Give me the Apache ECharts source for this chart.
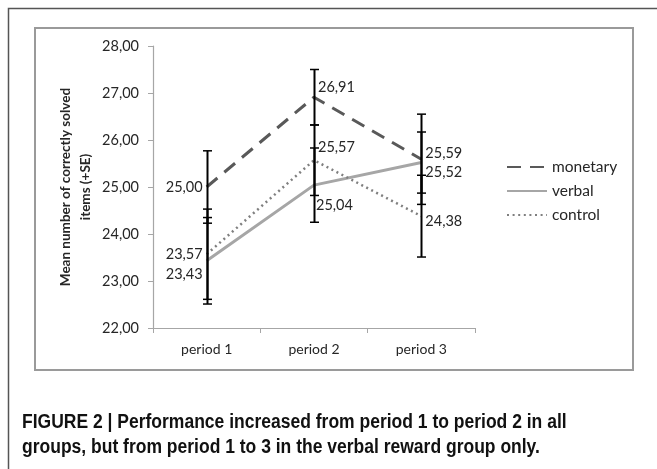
<!DOCTYPE html>
<html>
<head>
<meta charset="utf-8">
<script src="https://cdn.jsdelivr.net/npm/echarts@6/dist/echarts.min.js"></script>
<style>
html,body{margin:0;padding:0;background:#fff;}
#c{width:657px;height:469px;}
</style>
</head>
<body>
<div id="c"></div>
<script>
var categories = ['period 1', 'period 2', 'period 3'];
var monetary = [25.00, 26.91, 25.59];
var verbal = [23.43, 25.04, 25.52];
var control = [23.57, 25.57, 24.38];
var monetarySE = [0.77, 0.59, 0.96];
var verbalSE = [0.92, 0.79, 0.65];
var controlSE = [0.96, 0.75, 0.87];
var yTicks = [22, 23, 24, 25, 26, 27, 28];

// label placement (style only)
var monetaryLabelPos = [['left', [0, 0]], ['right', [0, -10]], ['right', [0, -6]]];
var verbalLabelPos = [['left', [0, 14]], ['right', [-2, 20]], ['right', [0, 10]]];
var controlLabelPos = [['left', [0, 0]], ['right', [0, -13]], ['right', [0, 5]]];

var FONT = 'Lato';
function fmt(v){ return v.toFixed(2).replace('.', ','); }

function lineData(vals, pos){
  return vals.map(function(v, i){
    return {value: v, label: {position: pos[i][0], offset: pos[i][1]}};
  });
}

var errData = [];
[[monetary, monetarySE], [verbal, verbalSE], [control, controlSE]].forEach(function(p){
  p[0].forEach(function(v, i){ errData.push([i, v - p[1][i], v + p[1][i]]); });
});

var chart = echarts.init(document.getElementById('c'), null, {renderer: 'canvas'});
var labelBase = {show: true, color: '#262626', fontFamily: FONT, fontSize: 14.5, distance: 4,
  formatter: function(p){ return fmt(p.value); }};

chart.setOption({
  animation: false,
  backgroundColor: '#fff',
  textStyle: {fontFamily: FONT},
  graphic: [
    {type: 'polyline', shape: {points: [[8.5, 480], [8.5, 8.5], [670, 8.5]]}, style: {stroke: '#555', lineWidth: 1.5, fill: null}, silent: true},
    {type: 'rect', shape: {x: 35, y: 28, width: 598, height: 342}, style: {stroke: '#9a9a9a', lineWidth: 2, fill: null}, silent: true},
    {type: 'text', x: 22, y: 410, scaleX: 0.875, style: {text: 'FIGURE 2 | Performance increased from period 1 to period 2 in all\ngroups, but from period 1 to 3 in the verbal reward group only.', font: 'bold 20px "Liberation Sans", Arial, sans-serif', fill: '#111', lineHeight: 25}, silent: true}
  ],
  grid: {left: 153, top: 46, width: 322, height: 282, containLabel: false},
  legend: {
    left: 501, top: 154, orient: 'vertical', itemWidth: 40, itemHeight: 12, itemGap: 8,
    itemStyle: {opacity: 0},
    textStyle: {fontFamily: FONT, fontSize: 15.5, color: '#262626'},
    data: ['monetary', 'verbal', 'control']
  },
  xAxis: {
    type: 'category', data: categories, boundaryGap: true,
    axisLine: {lineStyle: {color: '#a6a6a6', width: 1.2}},
    axisTick: {show: true, length: 5, lineStyle: {color: '#a6a6a6'}},
    axisLabel: {color: '#262626', fontFamily: FONT, fontSize: 14, margin: 14}
  },
  yAxis: {
    type: 'value', min: 22, max: 28, interval: 1,
    name: 'Mean number of correctly solved\nitems (+SE)', nameLocation: 'middle', nameGap: 57, nameRotate: 90,
    nameTextStyle: {fontFamily: FONT, fontSize: 13.5, fontWeight: 'bold', color: '#262626', lineHeight: 20, align: 'center'},
    axisLine: {show: true, lineStyle: {color: '#a6a6a6', width: 1.2}},
    axisTick: {show: true, length: 5, lineStyle: {color: '#a6a6a6'}},
    splitLine: {show: false},
    axisLabel: {color: '#262626', fontFamily: FONT, fontSize: 14.5, margin: 14,
      formatter: function(v){ return yTicks.indexOf(v) >= 0 ? fmt(v) : ''; }}
  },
  series: [
    {name: 'monetary', type: 'line', data: lineData(monetary, monetaryLabelPos), symbol: 'circle', symbolSize: 0, showSymbol: true, z: 3,
      lineStyle: {color: '#595959', width: 3, type: [14, 9]}, itemStyle: {color: '#595959'}, label: labelBase},
    {name: 'verbal', type: 'line', data: lineData(verbal, verbalLabelPos), symbol: 'circle', symbolSize: 0, showSymbol: true, z: 3,
      lineStyle: {color: '#a6a6a6', width: 3, type: 'solid'}, itemStyle: {color: '#a6a6a6'}, label: labelBase},
    {name: 'control', type: 'line', data: lineData(control, controlLabelPos), symbol: 'circle', symbolSize: 0, showSymbol: true, z: 3,
      lineStyle: {color: '#7f7f7f', width: 2.5, type: [2, 3.6]}, itemStyle: {color: '#7f7f7f'}, label: labelBase},
    {type: 'custom', name: 'se', z: 4, data: errData,
      renderItem: function(params, api){
        var lo = api.coord([api.value(0), api.value(1)]);
        var hi = api.coord([api.value(0), api.value(2)]);
        var x = Math.round(lo[0]) + 0.5, h = 4.5;
        var st = {stroke: '#000', lineWidth: 2};
        return {type: 'group', children: [
          {type: 'line', shape: {x1: x, y1: lo[1], x2: x, y2: hi[1]}, style: st},
          {type: 'line', shape: {x1: x - h, y1: lo[1], x2: x + h, y2: lo[1]}, style: {stroke: '#000', lineWidth: 1.5}},
          {type: 'line', shape: {x1: x - h, y1: hi[1], x2: x + h, y2: hi[1]}, style: {stroke: '#000', lineWidth: 1.5}}
        ]};
      }
    }
  ]
});
</script>
</body>
</html>
